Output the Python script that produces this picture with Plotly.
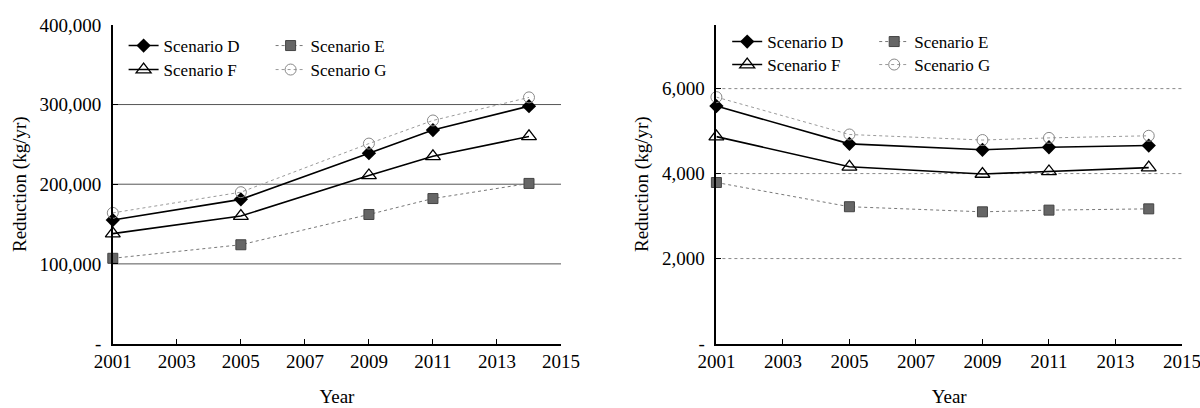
import plotly.graph_objects as go

years = [2001, 2005, 2009, 2011, 2014]

left_D = [155000, 181000, 239000, 268000, 298000]
left_E = [107000, 124000, 162000, 182000, 201000]
left_F = [138000, 160000, 211000, 235000, 260000]
left_G = [164000, 190000, 251000, 280000, 309000]

right_D = [5590, 4700, 4560, 4620, 4660]
right_E = [3790, 3220, 3100, 3140, 3170]
right_F = [4870, 4160, 3990, 4050, 4140]
right_G = [5800, 4920, 4790, 4840, 4890]

x_ticks = [2001, 2003, 2005, 2007, 2009, 2011, 2013, 2015]
left_yticks = [0, 100000, 200000, 300000, 400000]
left_yticklabels = ["-", "100,000", "200,000", "300,000", "400,000"]
left_grid = [100000, 200000, 300000]
right_yticks = [0, 2000, 4000, 6000]
right_yticklabels = ["-", "2,000", "4,000", "6,000"]
right_grid = [2000, 4000, 6000]

FONT = "serif"

styles = {
    "D": dict(line=dict(color="black", width=1.6),
              marker=dict(symbol="diamond", size=11, color="black")),
    "E": dict(line=dict(color="#777777", width=1, dash="dot"),
              marker=dict(symbol="square", size=10, color="#666666",
                          line=dict(color="#444444", width=1))),
    "F": dict(line=dict(color="black", width=1.6),
              marker=dict(symbol="triangle-up-open", size=13, color="black",
                          line=dict(width=1.3))),
    "G": dict(line=dict(color="#9a9a9a", width=1, dash="dot"),
              marker=dict(symbol="circle-open", size=11, color="#888888",
                          line=dict(width=1))),
}

fig = go.Figure()

left = {"D": left_D, "E": left_E, "F": left_F, "G": left_G}
right = {"D": right_D, "E": right_E, "F": right_F, "G": right_G}
leg_left = {"D": "legend", "E": "legend", "F": "legend2", "G": "legend2"}
leg_right = {"D": "legend3", "E": "legend3", "F": "legend4", "G": "legend4"}

for k, vals in left.items():
    fig.add_trace(go.Scatter(x=years, y=vals, mode="lines+markers",
                             name="Scenario " + k, xaxis="x", yaxis="y",
                             legend=leg_left[k], cliponaxis=False, **styles[k]))
for k, vals in right.items():
    fig.add_trace(go.Scatter(x=years, y=vals, mode="lines+markers",
                             name="Scenario " + k, xaxis="x2", yaxis="y2",
                             legend=leg_right[k], cliponaxis=False, **styles[k]))

ydom = [0.158, 0.939]
common_x = dict(range=[2001, 2015], tickvals=x_ticks, ticks="inside", ticklen=5,
                tickcolor="black", showline=True, linecolor="black", linewidth=1.5,
                showgrid=False, zeroline=False, automargin=False,
                ticklabeloverflow="allow",
                tickfont=dict(family=FONT, size=19, color="black"),
                title=dict(text="Year", font=dict(family=FONT, size=19, color="black"),
                           standoff=19))
common_y = dict(ticks="inside", ticklen=5, tickcolor="black", showline=True,
                linecolor="black", linewidth=1.5, showgrid=False, zeroline=False,
                automargin=False, ticklabelstandoff=6,
                tickfont=dict(family=FONT, size=19, color="black"),
                title=dict(text="Reduction (kg/yr)",
                           font=dict(family=FONT, size=19, color="black"),
                           standoff=8))

fig.update_layout(
    width=1200, height=408,
    margin=dict(l=0, r=0, t=0, b=0),
    paper_bgcolor="white", plot_bgcolor="white",
    xaxis=dict(domain=[0.094, 0.4675], anchor="y", **common_x),
    yaxis=dict(domain=ydom, anchor="x", range=[0, 400000],
               tickvals=left_yticks, ticktext=left_yticklabels, **common_y),
    xaxis2=dict(domain=[0.597, 0.985], anchor="y2", **common_x),
    yaxis2=dict(domain=ydom, anchor="x2", range=[0, 7500],
                tickvals=right_yticks, ticktext=right_yticklabels, **common_y),
    font=dict(family=FONT, color="black"),
)

leg_common = dict(orientation="h", xanchor="left", yanchor="middle",
                  bgcolor="rgba(0,0,0,0)", borderwidth=0,
                  font=dict(family=FONT, size=17, color="black"),
                  entrywidth=102, entrywidthmode="pixels", itemwidth=30)
fig.update_layout(
    legend=dict(x=0.103, y=(408 - 46) / 408, **leg_common),
    legend2=dict(x=0.103, y=(408 - 70) / 408, **leg_common),
    legend3=dict(x=0.606, y=(408 - 42) / 408, **leg_common),
    legend4=dict(x=0.606, y=(408 - 65) / 408, **leg_common),
)

shapes = []
for g in left_grid:
    shapes.append(dict(type="line", xref="x domain", yref="y", x0=0, x1=1, y0=g, y1=g,
                       line=dict(color="#555555", width=1), layer="below"))
for g in right_grid:
    shapes.append(dict(type="line", xref="x2 domain", yref="y2", x0=0, x1=1, y0=g, y1=g,
                       line=dict(color="#888888", width=1, dash="dot"), layer="below"))
fig.update_layout(shapes=shapes)

fig.write_html("out.html", config={"displayModeBar": False},
               post_script="document.body.style.margin='0px';document.body.style.padding='0px';")
